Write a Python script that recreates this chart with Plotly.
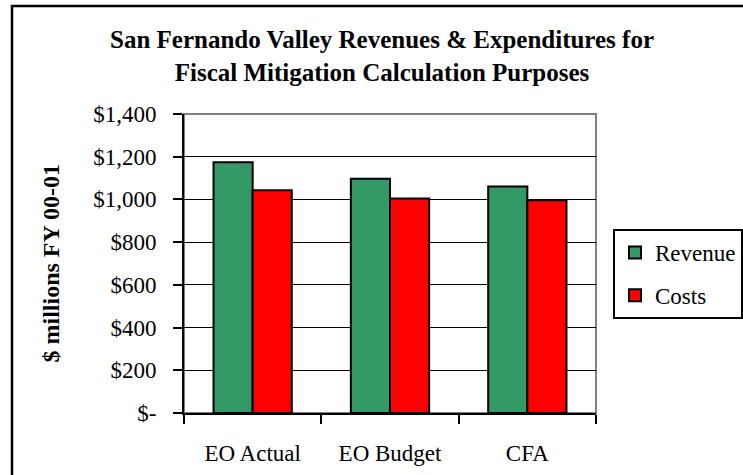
import plotly.graph_objects as go

categories = ["EO Actual", "EO Budget", "CFA"]
revenue = [1174, 1097, 1061]
costs = [1043, 1004, 996]
y_tick_vals = [0, 200, 400, 600, 800, 1000, 1200, 1400]
y_tick_text = ["$-", "$200", "$400", "$600", "$800", "$1,000", "$1,200", "$1,400"]

W, H = 743, 475
L, R, T, B = 184, 147, 114, 62
pw, ph = W - L - R, H - T - B

def px_x(p):
    return (p - L) / pw

def px_y(p):
    return (H - B - p) / ph

serif = "Liberation Serif, Times New Roman, serif"

fig = go.Figure()
fig.add_trace(go.Bar(name="Revenue", x=categories, y=revenue,
                     marker=dict(color="#339966", line=dict(color="black", width=2)),
                     legendgroup="a"))
fig.add_trace(go.Bar(name="Costs", x=categories, y=costs,
                     marker=dict(color="#FF0000", line=dict(color="black", width=2)),
                     legendgroup="b"))

fig.update_layout(
    width=W, height=H,
    margin=dict(l=L, r=R, t=T, b=B, autoexpand=False),
    paper_bgcolor="white", plot_bgcolor="white",
    barmode="group", bargap=0.43, bargroupgap=0,
    font=dict(family=serif, size=23, color="black"),
    title=dict(text="<b>San Fernando Valley Revenues & Expenditures for<br>Fiscal Mitigation Calculation Purposes</b>",
               x=382 / W, xanchor="center", xref="container",
               y=1 - 48 / H, yanchor="middle", yref="container",
               font=dict(family=serif, size=25, color="black")),
    legend=dict(x=px_x(613), y=px_y(229), xanchor="left", yanchor="top",
                bordercolor="black", borderwidth=2, bgcolor="white",
                font=dict(family=serif, size=23), traceorder="grouped",
                tracegroupgap=10, itemwidth=30),
    showlegend=True,
)

fig.update_yaxes(range=[0, 1400], tickvals=y_tick_vals, ticktext=y_tick_text,
                 showgrid=True, gridcolor="black", gridwidth=1.3,
                 showline=True, linecolor="black", linewidth=2,
                 ticks="outside", ticklen=9, tickwidth=2, tickcolor="black",
                 ticklabelstandoff=12, zeroline=False,
                 tickfont=dict(family=serif, size=23))
fig.update_xaxes(showline=True, linecolor="black", linewidth=2,
                 ticks="outside", tickson="boundaries", ticklen=9, tickwidth=2,
                 tickcolor="black", showgrid=False,
                 ticklabelstandoff=18,
                 tickfont=dict(family=serif, size=23))

# gray plot-area border (top/right)
fig.add_shape(type="rect", xref="paper", yref="paper", x0=0, x1=1, y0=0, y1=1,
              line=dict(color="#808080", width=2), layer="below")
# outer chart frame
fig.add_shape(type="rect", xref="paper", yref="paper",
              x0=px_x(12), x1=px_x(800), y0=px_y(520), y1=px_y(6),
              line=dict(color="black", width=2.5), layer="below")

fig.add_annotation(text="<b>$ millions FY 00-01</b>", textangle=-90,
                   xref="paper", yref="paper", x=px_x(50), y=0.5,
                   showarrow=False, xanchor="center", yanchor="middle",
                   font=dict(family=serif, size=24, color="black"))

fig.write_html("out.html",
               config={"displayModeBar": False},
               post_script="document.body.style.margin='0';document.body.style.overflow='hidden';")
